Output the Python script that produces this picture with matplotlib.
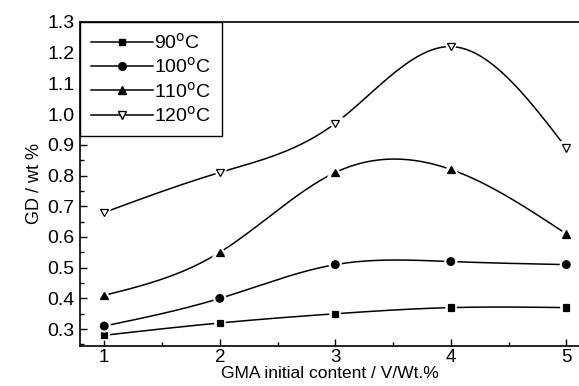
import numpy as np
import matplotlib
matplotlib.use("Agg")
import matplotlib.pyplot as plt
import matplotlib.patheffects as pe
from matplotlib.ticker import MultipleLocator

plt.rcParams['font.family'] = ['Liberation Sans', 'DejaVu Sans']

# Data
gma = [1, 2, 3, 4, 5]
gd_90 = [0.28, 0.32, 0.35, 0.37, 0.37]
gd_100 = [0.31, 0.40, 0.51, 0.52, 0.51]
gd_110 = [0.41, 0.55, 0.81, 0.82, 0.61]
gd_120 = [0.68, 0.81, 0.97, 1.22, 0.89]
labels = ["90$^\\mathrm{o}$C", "100$^\\mathrm{o}$C", "110$^\\mathrm{o}$C", "120$^\\mathrm{o}$C"]


def natural_spline(x, y, n=200):
    # natural cubic spline through the points, for the smooth connecting line
    x = np.asarray(x, float)
    y = np.asarray(y, float)
    m = len(x)
    h = np.diff(x)
    A = np.zeros((m, m))
    b = np.zeros(m)
    A[0, 0] = A[-1, -1] = 1
    for i in range(1, m - 1):
        A[i, i - 1] = h[i - 1]
        A[i, i] = 2 * (h[i - 1] + h[i])
        A[i, i + 1] = h[i]
        b[i] = 6 * ((y[i + 1] - y[i]) / h[i] - (y[i] - y[i - 1]) / h[i - 1])
    M = np.linalg.solve(A, b)
    xs = np.linspace(x[0], x[-1], n)
    idx = np.clip(np.searchsorted(x, xs) - 1, 0, m - 2)
    x0, x1 = x[idx], x[idx + 1]
    hh = x1 - x0
    ys = (M[idx] * (x1 - xs) ** 3 / (6 * hh) + M[idx + 1] * (xs - x0) ** 3 / (6 * hh)
          + (y[idx] / hh - M[idx] * hh / 6) * (x1 - xs)
          + (y[idx + 1] / hh - M[idx + 1] * hh / 6) * (xs - x0))
    return xs, ys


fig = plt.figure(figsize=(5.79, 3.86), dpi=100)
ax = fig.add_axes([80 / 579, 40 / 386, 1 - 80 / 579, 324 / 386])

series = [gd_90, gd_100, gd_110, gd_120]
markers = ['s', 'o', '^', 'v']
faces = ['black', 'black', 'black', 'white']
sizes = [4.5, 5.5, 5.5, 5.5]

handles = []
for ys, mk, fc, ms, lab in zip(series, markers, faces, sizes, labels):
    xs_s, ys_s = natural_spline(gma, ys)
    ax.plot(xs_s, ys_s, color='black', lw=1.1, zorder=2)
    ax.plot(gma, ys, linestyle='none', marker=mk, markersize=ms,
            markerfacecolor=fc, markeredgecolor='black', markeredgewidth=0.9, zorder=3,
            path_effects=[pe.Stroke(linewidth=4, foreground='white'), pe.Normal()])
    h, = ax.plot([], [], color='black', lw=1.1, marker=mk, markersize=ms,
                 markerfacecolor=fc, markeredgecolor='black', label=lab)
    handles.append(h)

ax.set_xlim(0.79, 5.11)
ax.set_ylim(0.245, 1.3)
ax.xaxis.set_major_locator(MultipleLocator(1))
ax.xaxis.set_minor_locator(MultipleLocator(0.5))
ax.yaxis.set_minor_locator(MultipleLocator(0.05))
ax.set_yticks(np.arange(0.3, 1.31, 0.1))
ax.tick_params(which='both', direction='in', top=False, right=False, labelsize=14)
ax.tick_params(axis='x', labelsize=13.5)
ax.tick_params(which='major', length=5, width=1, pad=2)
ax.tick_params(which='minor', length=3, width=1)
ax.tick_params(axis='y', which='major', pad=4)
ax.spines['right'].set_visible(False)
for s in ['left', 'bottom', 'top']:
    ax.spines[s].set_linewidth(1.2)

ax.set_xlabel("GMA initial content / V/Wt.%", fontsize=12.5, labelpad=0)
ax.set_ylabel("GD / wt %", fontsize=13, labelpad=3)

leg = ax.legend(handles=handles, loc='upper left', fontsize=14, frameon=True,
                fancybox=False, edgecolor='black', framealpha=1, borderaxespad=0,
                handlelength=3.2, handletextpad=0.05, labelspacing=0.22, borderpad=0.55)
leg.get_frame().set_linewidth(1.0)

fig.savefig("out.png", dpi=100)
